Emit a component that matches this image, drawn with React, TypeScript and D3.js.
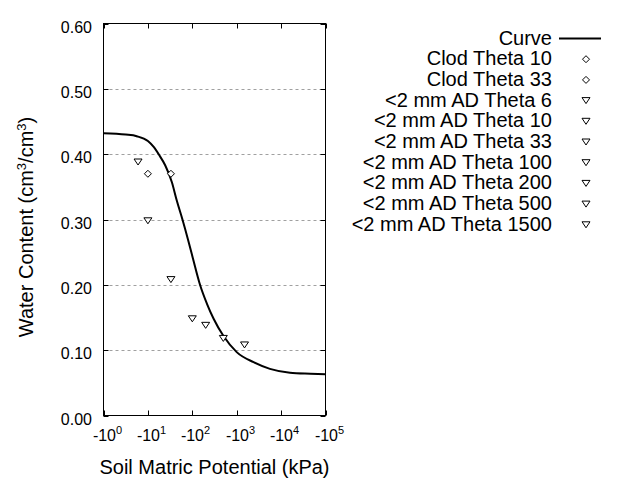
import React from "react";
import * as d3 from "d3";

// Fitted retention curve (|matric potential| in kPa, water content)
const curvePotential = [1, 3.16, 5.6, 10, 13.5, 17.8, 24.5, 34.7, 44.7, 60, 81, 102, 151, 214, 302, 500, 1000, 2400, 5600, 15850, 45700, 100000];
const curveTheta = [0.432, 0.43, 0.4275, 0.42, 0.411, 0.399, 0.383, 0.357, 0.329, 0.3, 0.268, 0.242, 0.199, 0.171, 0.148, 0.122, 0.097, 0.0816, 0.0714, 0.0655, 0.064, 0.0632];

// Measured points
const pointLabels = [
  "Clod Theta 10",
  "Clod Theta 33",
  "<2 mm AD Theta 6",
  "<2 mm AD Theta 10",
  "<2 mm AD Theta 33",
  "<2 mm AD Theta 100",
  "<2 mm AD Theta 200",
  "<2 mm AD Theta 500",
  "<2 mm AD Theta 1500",
];
const pointPotential = [10, 33, 6, 10, 33, 100, 200, 500, 1500];
const pointTheta = [0.37, 0.37, 0.388, 0.298, 0.208, 0.148, 0.138, 0.118, 0.108];
const pointShape = ["diamond", "diamond", "triangle", "triangle", "triangle", "triangle", "triangle", "triangle", "triangle"];

const curveLabel = "Curve";

// Axes
const xTickValues = [1, 10, 100, 1000, 10000, 100000];
const xTickExponents = ["0", "1", "2", "3", "4", "5"];
const yTickValues = [0, 0.1, 0.2, 0.3, 0.4, 0.5, 0.6];
const xTitle = "Soil Matric Potential (kPa)";

const FONT = "'Liberation Sans', Arial, Helvetica, sans-serif";

const PLOT = { left: 103.5, right: 325.5, top: 23.5, bottom: 415.5 };

const diamondPath = "M0,-3.5L3.5,0L0,3.5L-3.5,0Z";
const trianglePath = "M-4,-3L4,-3L0,3Z";

function Marker({ shape, x, y }: { shape: string; x: number; y: number }) {
  return (
    <path
      d={shape === "diamond" ? diamondPath : trianglePath}
      transform={`translate(${x},${y})`}
      fill="white"
      stroke="black"
      strokeWidth={1}
    />
  );
}

export default function App() {
  const x = d3.scaleLog().domain([1, 100000]).range([PLOT.left, PLOT.right]);
  const y = d3.scaleLinear().domain([0, 0.6]).range([PLOT.bottom, PLOT.top]);

  const curveData = curvePotential.map((p, i) => [p, curveTheta[i]] as [number, number]);
  const line = d3
    .line<[number, number]>()
    .x((d) => x(d[0]))
    .y((d) => y(d[1]))
    .curve(d3.curveMonotoneX);

  const legendX = 552;
  const legendBase = 44.5;
  const legendStep = 20.7;
  const legendMarkX = 586;

  return (
    <svg
      width={640}
      height={480}
      style={{ position: "absolute", left: 0, top: 0, background: "white" }}
      fontFamily={FONT}
    >
      <rect x={0} y={0} width={640} height={480} fill="white" />
      {/* grid */}
      {yTickValues
        .filter((v) => v > 0 && v < 0.6)
        .map((v) => (
          <line
            key={"g" + v}
            x1={PLOT.left}
            x2={PLOT.right}
            y1={Math.round(y(v)) + 0.5}
            y2={Math.round(y(v)) + 0.5}
            stroke="#a0a0a0"
            strokeWidth={1}
            strokeDasharray="3,3"
          />
        ))}

      {/* frame */}
      <rect
        x={PLOT.left}
        y={PLOT.top}
        width={PLOT.right - PLOT.left}
        height={PLOT.bottom - PLOT.top}
        fill="none"
        stroke="black"
        strokeWidth={1}
      />

      {/* y ticks and labels */}
      {yTickValues.map((v) => {
        const yy = Math.round(y(v)) + 0.5;
        return (
          <g key={"y" + v}>
            <line x1={PLOT.left} x2={PLOT.left + 5} y1={yy} y2={yy} stroke="black" />
            <line x1={PLOT.right - 5} x2={PLOT.right} y1={yy} y2={yy} stroke="black" />
            <text x={92} y={yy + 8} fontSize={16} textAnchor="end" fill="black">
              {d3.format(".2f")(v)}
            </text>
          </g>
        );
      })}

      {/* x ticks and labels */}
      {xTickValues.map((v, i) => {
        const xx = Math.round(x(v)) + 0.5;
        return (
          <g key={"x" + v}>
            <line x1={xx} x2={xx} y1={PLOT.bottom - 5} y2={PLOT.bottom} stroke="black" />
            <line x1={xx} x2={xx} y1={PLOT.top} y2={PLOT.top + 5} stroke="black" />
            <text x={xx + 3} y={441} fontSize={16} textAnchor="middle" fill="black">
              -10
              <tspan fontSize={11} dy={-7}>
                {xTickExponents[i]}
              </tspan>
            </text>
          </g>
        );
      })}

      {/* curve */}
      <path d={line(curveData) || ""} fill="none" stroke="black" strokeWidth={2} />

      {/* points */}
      {pointPotential.map((p, i) => (
        <Marker key={"p" + i} shape={pointShape[i]} x={x(p)} y={y(pointTheta[i])} />
      ))}

      {/* axis titles */}
      <text x={(PLOT.left + PLOT.right) / 2} y={474} fontSize={20} textAnchor="middle" fill="black">
        {xTitle}
      </text>
      <text
        transform={`translate(33,227) rotate(-90)`}
        fontSize={20}
        textAnchor="middle"
        fill="black"
      >
        Water Content (cm
        <tspan fontSize={13} dy={-7}>
          3
        </tspan>
        <tspan dy={7}>/cm</tspan>
        <tspan fontSize={13} dy={-7}>
          3
        </tspan>
        <tspan dy={7}>)</tspan>
      </text>

      {/* legend */}
      <g>
        <text x={legendX} y={legendBase} fontSize={20} textAnchor="end" fill="black">
          {curveLabel}
        </text>
        <line
          x1={559}
          x2={601}
          y1={legendBase - 6}
          y2={legendBase - 6}
          stroke="black"
          strokeWidth={2}
        />
        {pointLabels.map((lab, i) => {
          const by = legendBase + legendStep * (i + 1);
          return (
            <g key={"l" + i}>
              <text x={legendX} y={by} fontSize={20} textAnchor="end" fill="black">
                {lab}
              </text>
              <Marker shape={pointShape[i]} x={legendMarkX} y={by - 6} />
            </g>
          );
        })}
      </g>
    </svg>
  );
}
